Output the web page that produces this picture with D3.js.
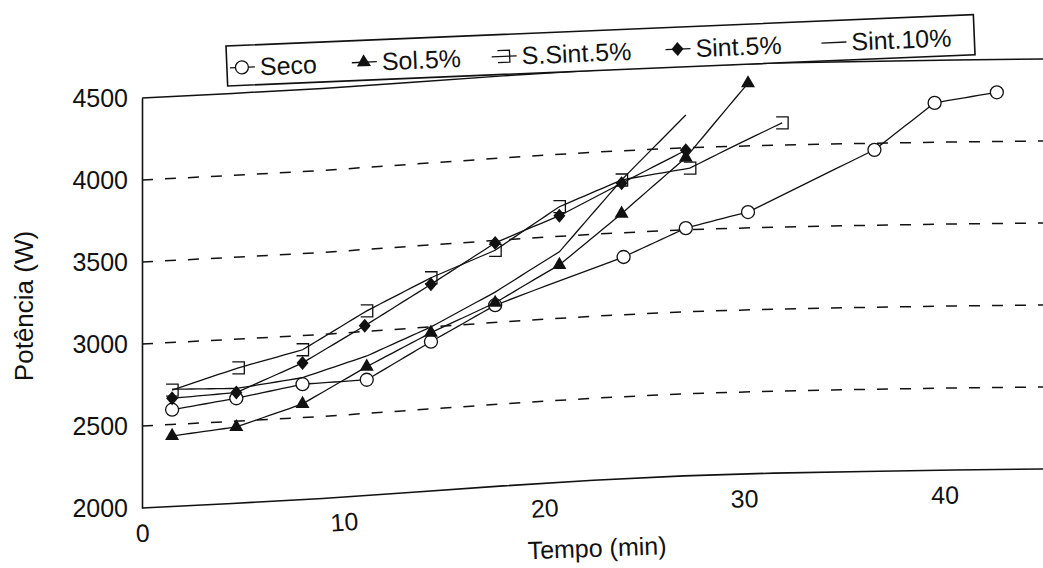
<!DOCTYPE html>
<html>
<head>
<meta charset="utf-8">
<script src="https://cdn.jsdelivr.net/npm/d3@7"></script>
<style>
body { margin: 0; background: #fff; }
text { font-family: "Liberation Sans", Arial, sans-serif; fill: #111; }
</style>
</head>
<body>
<svg id="chart" width="1043" height="568"></svg>
<script>
'use strict';

// values (time in min, power in W)
var secoTime = [1.5, 4.7, 8.0, 11.2, 14.4, 17.6, 24.0, 27.1, 30.2, 36.5, 39.5, 42.6];
var secoPower = [2590, 2640, 2705, 2705, 2910, 3105, 3350, 3510, 3595, 3960, 4240, 4300];

var solTime = [1.5, 4.7, 8.0, 11.2, 14.4, 17.6, 20.8, 23.9, 27.1, 30.2];
var solPower = [2430, 2465, 2585, 2785, 2965, 3120, 3325, 3615, 3940, 4380];

var sSintTime = [1.5, 4.8, 8.0, 11.2, 14.4, 17.6, 20.8, 23.9, 27.3, 31.9];
var sSintPower = [2710, 2825, 2915, 3125, 3300, 3440, 3680, 3820, 3875, 4135];

var sint5Time = [1.5, 4.7, 8.0, 11.1, 14.4, 17.6, 20.8, 23.9, 27.1];
var sint5Power = [2660, 2675, 2835, 3035, 3260, 3485, 3625, 3800, 3985];

var sint10Time = [1.5, 4.7, 8.0, 11.2, 14.4, 17.6, 20.8, 23.9, 27.1];
var sint10Power = [2715, 2700, 2745, 2850, 3000, 3185, 3405, 3820, 4200];

var seriesNames = ['Seco', 'Sol.5%', 'S.Sint.5%', 'Sint.5%', 'Sint.10%'];
var yTicks = [2000, 2500, 3000, 3500, 4000, 4500];
var xTicks = [0, 10, 20, 30, 40];
var gridValues = [2500, 3000, 3500, 4000];

var series = [
    { name: seriesNames[0], time: secoTime, power: secoPower, marker: 'circle' },
    { name: seriesNames[1], time: solTime, power: solPower, marker: 'triangle' },
    { name: seriesNames[2], time: sSintTime, power: sSintPower, marker: 'bracket' },
    { name: seriesNames[3], time: sint5Time, power: sint5Power, marker: 'diamond' },
    { name: seriesNames[4], time: sint10Time, power: sint10Power, marker: 'none' }
];

var svg = d3.select('#chart');
var ink = '#111';

var x = d3.scaleLinear().domain([0, 45]).range([142, 1045]);
var y = d3.scaleLinear().domain([2000, 4500]).range([508, 98]);

// the page was scanned bent: things drift upward towards the right
var lift = d3.scaleLinear()
    .domain([142, 300, 430, 530, 630, 730, 830, 950, 1045])
    .range([0, 8, 17, 24, 30, 34, 36, 38, 39])
    .clamp(true);

function bend(px, py) {
    return [px, py - lift(px)];
}

function slantAt(px) {
    return -Math.atan((lift(px + 15) - lift(px - 15)) / 30) * 180 / Math.PI;
}

function bentPath(pts) {
    var out = [];
    for (var i = 0; i < pts.length - 1; i++) {
        var a = pts[i], b = pts[i + 1];
        for (var k = 0; k < 10; k++) {
            var f = k / 10;
            out.push(bend(a[0] + (b[0] - a[0]) * f, a[1] + (b[1] - a[1]) * f));
        }
    }
    var last = pts[pts.length - 1];
    out.push(bend(last[0], last[1]));
    return d3.line()(out);
}

// dashed grid
svg.append('g').selectAll('path')
    .data(gridValues)
    .enter().append('path')
    .attr('d', function(v) {
        return bentPath([[x.range()[0], y(v)], [x.range()[1], y(v)]]);
    })
    .attr('fill', 'none')
    .attr('stroke', ink)
    .attr('stroke-width', 1.5)
    .attr('stroke-dasharray', '11,12');

// frame: top and bottom edges follow the bend
svg.append('path')
    .attr('d', bentPath([[x.range()[0], y(4500)], [x.range()[1], y(4500)]]))
    .attr('fill', 'none').attr('stroke', ink).attr('stroke-width', 1.5);
svg.append('path')
    .attr('d', bentPath([[x.range()[0], y(2000)], [x.range()[1], y(2000)]]))
    .attr('fill', 'none').attr('stroke', ink).attr('stroke-width', 1.6);

// y axis
var yAxis = svg.append('g')
    .attr('transform', 'translate(' + x.range()[0] + ',0)')
    .call(d3.axisLeft(y).tickValues(yTicks).tickFormat(d3.format('d'))
        .tickSize(0).tickSizeOuter(0).tickPadding(14));
yAxis.select('.domain').attr('stroke', ink).attr('stroke-width', 1.6);
yAxis.selectAll('text')
    .style('font-size', '25px')
    .attr('fill', ink);

// x axis, ticks moved onto the bent baseline
var xAxis = svg.append('g')
    .call(d3.axisBottom(x).tickValues(xTicks).tickSize(0).tickPadding(0));
xAxis.select('.domain').remove();
xAxis.selectAll('.tick')
    .attr('transform', function(d) {
        var p = bend(x(d), y(2000));
        return 'translate(' + p[0] + ',' + p[1] + ') rotate(' + slantAt(p[0]) + ')';
    });
xAxis.selectAll('text')
    .attr('y', 16)
    .style('font-size', '25px')
    .attr('fill', ink);

// axis titles
var tPos = bend(597, y(2000));
svg.append('text')
    .attr('transform', 'translate(' + tPos[0] + ',' + (tPos[1] + 68) + ') rotate(' + slantAt(597) * 0.6 + ')')
    .attr('text-anchor', 'middle')
    .attr('dy', '0.35em')
    .style('font-size', '25px')
    .text('Tempo (min)');

svg.append('text')
    .attr('transform', 'translate(24,306) rotate(-90)')
    .attr('text-anchor', 'middle')
    .attr('dy', '0.35em')
    .style('font-size', '26px')
    .text('Potência (W)');

function drawMarker(g, kind) {
    if (kind === 'circle') {
        g.append('circle').attr('r', 6.5)
            .attr('fill', '#fff').attr('stroke', ink).attr('stroke-width', 1.3);
    } else if (kind === 'triangle') {
        g.append('path').attr('d', d3.symbol(d3.symbolTriangle, 85)())
            .attr('fill', ink);
    } else if (kind === 'diamond') {
        g.append('path').attr('d', 'M0,-7L6,0L0,7L-6,0Z')
            .attr('fill', ink);
    } else if (kind === 'bracket') {
        g.append('path').attr('d', 'M-6,-6H6V6H-6')
            .attr('fill', 'none').attr('stroke', ink).attr('stroke-width', 1.3);
    }
}

// series lines and markers
series.forEach(function(s) {
    var pts = s.time.map(function(t, i) { return [x(t), y(s.power[i])]; });
    svg.append('path')
        .attr('d', bentPath(pts))
        .attr('fill', 'none')
        .attr('stroke', ink)
        .attr('stroke-width', 1.3);

    if (s.marker === 'none') return;
    svg.append('g').selectAll('g')
        .data(pts)
        .enter().append('g')
        .attr('transform', function(p) {
            var q = bend(p[0], p[1]);
            return 'translate(' + q[0] + ',' + q[1] + ')';
        })
        .each(function() { drawMarker(d3.select(this), s.marker); });
});

// legend box, tilted like the rest of the scan
var legendX = [0, 122, 262, 436, 592];
var legend = svg.append('g')
    .attr('transform', 'translate(226,46) rotate(-2.4)');
legend.append('rect')
    .attr('width', 748).attr('height', 40)
    .attr('fill', '#fff').attr('stroke', ink).attr('stroke-width', 1.6);

var item = legend.selectAll('.item')
    .data(series)
    .enter().append('g')
    .attr('class', 'item')
    .attr('transform', function(d, i) { return 'translate(' + legendX[i] + ',22)'; });
item.append('line')
    .attr('x1', 3).attr('x2', 28)
    .attr('stroke', ink).attr('stroke-width', 1.3);
item.append('g')
    .attr('transform', 'translate(15,0)')
    .each(function(d) { drawMarker(d3.select(this), d.marker); });
item.append('text')
    .attr('x', 33)
    .attr('dy', '0.35em')
    .style('font-size', '25px')
    .text(function(d) { return d.name; });
</script>
</body>
</html>
